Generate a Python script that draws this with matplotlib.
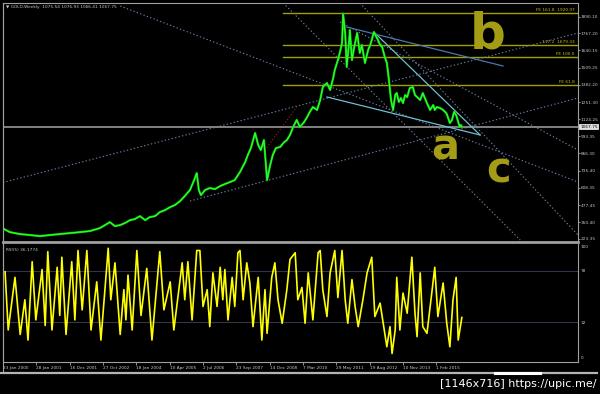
import matplotlib
matplotlib.use('Agg')
import matplotlib.pyplot as plt
from matplotlib.lines import Line2D
import matplotlib.transforms as mtransforms

W, H = 600, 394

# ---------------- data ----------------
symbol_title = "\u25BC GOLD,Weekly  1075.54 1076.93 1066.41 1067.75"
rsi_title = "RSI(5) 36.1774"
last_price = 1067.75

price_bar = [2,13,33,52,71,90,109,129,148,167,186,196,205,215,225,234,244,253,263,273,
             282,292,301,311,321,330,340,349,359,367,372,376,380,388,397,407,417,426,436,445,
             455,465,470,476,484,490,495,501,507,513,518,524,532,540,545,551,557,564,570,578,
             584,589,595,603,609,614,622,628,634,637,643,647,651,653,657,660,664,666,670,674,
             676,680,685,689,695,701,705,708,712,716,720,724,728,733,737,741,745,749,753,756,
             760,764,768,772,776,781,787,791,795,801,806,810,814,820,826,829,833,839,845,849,
             852,858,862,866,870,874,877,879,881]
price_close = [298,275,260,253,245,253,260,268,275,283,305,328,350,320,328,343,365,373,395,365,
               388,395,425,440,463,478,508,546,591,666,718,591,553,591,606,598,621,636,651,666,
               726,801,854,906,1019,929,891,966,666,779,854,906,914,951,966,1004,1064,1117,1064,1101,
               1139,1177,1214,1192,1267,1364,1394,1342,1432,1492,1567,1627,1695,1915,1770,1515,1680,1792,1567,1657,
               1695,1770,1620,1680,1545,1642,1680,1717,1777,1747,1717,1680,1665,1590,1545,1417,1267,1192,1304,1319,
               1252,1282,1244,1304,1289,1357,1364,1304,1289,1267,1319,1282,1244,1192,1229,1192,1214,1207,1192,1177,
               1162,1094,1117,1177,1154,1101,1064,1079,1067.75]

rsi_bar = [4,10,23,33,42,48,56,63,75,81,86,94,104,109,113,121,132,138,144,152,
           161,169,180,188,202,207,215,225,232,236,240,248,257,265,276,286,301,309,321,328,
           344,349,355,363,372,378,384,392,397,403,411,417,422,426,432,440,445,451,455,461,
           468,474,480,490,497,503,507,516,522,528,536,545,551,561,566,574,580,586,595,605,
           609,614,622,628,637,643,651,657,662,670,676,682,691,699,708,714,724,730,737,743,
           747,753,756,762,768,776,785,791,795,801,806,814,824,829,835,845,852,858,864,870,
           874,881]
rsi_value = [77,25,72,21,52,16,86,34,79,29,95,25,81,38,90,21,86,34,96,43,
             96,25,68,16,98,52,85,21,61,34,74,25,96,38,80,16,95,43,68,25,
             85,52,86,34,96,96,46,61,28,76,46,81,52,79,34,72,46,94,96,52,
             85,67,28,72,16,61,22,72,85,52,31,61,88,94,52,63,31,76,34,94,
             96,61,37,76,96,54,96,52,31,70,46,28,52,76,90,37,49,31,10,28,
             4,25,72,25,58,40,90,40,19,76,28,22,61,81,37,67,31,10,52,72,
             16,36.18]

date_tick_bar = [0,64,128,192,256,320,384,448,512,576,640,704,768,832]
date_labels = ["23 Jan 2000","28 Jan 2001","16 Dec 2001","27 Oct 2002","18 Jan 2004",
               "10 Apr 2005","2 Jul 2006","23 Sep 2007","14 Dec 2008","7 Mar 2010",
               "29 May 2011","19 Aug 2012","10 Nov 2013","1 Feb 2015"]
price_ticks = [1890.10,1767.20,1640.15,1509.25,1382.20,1251.30,1124.25,993.35,
               866.30,735.40,608.35,477.45,350.40,223.35]
rsi_ticks = [100,78,32,0]
rsi_levels = [78,32]

fe_prices = [1920.97,1679.33,1586.10,1379.10]
fe_labels = ["FE 161.8  1920.97","117.2  1679.33","FE 100.0","FE 61.8"]
fe_start_bar = 537

# trendlines: (bar1, price1, bar2, price2)
dotted_lines = [(225,1972.7,1104,651.3),
                (685,1995.2,1104,253.4),
                (538,1995.2,993,215.8),
                (0,647.5,1104,1770.0),
                (359,508.6,1104,1282.0),
                (647,1852.6,1104,891.5)]
red_dotted = (503,891.5,564,1214.4)
wedge_lines = [(622,1289.5,916,1004.2),
               (712,1777.5,916,1004.2)]
steel_line = (660,1815.0,960,1522.2)
hand_marks = [("b",931,1755),("a",849,914),("c",952,734)]

# ---------------- figure ----------------
BG = 'black'
TXT = '#c8c8c8'
FS = 3.1
fig = plt.figure(figsize=(W/100, H/100), dpi=100, facecolor=BG)

def axrect(x0, y0, x1, y1):
    return [x0/W, 1-y1/H, (x1-x0)/W, (y1-y0)/H]

ax = fig.add_axes(axrect(3, 3, 578, 242), facecolor=BG)
rx = fig.add_axes(axrect(3, 244, 578, 362), facecolor=BG)

ax.set_xlim(0, 1104)
ax.set_ylim(200.8, 1995.2)
rx.set_xlim(0, 1104)
rx.set_ylim(-3.6, 101.8)

# FE lines
fe_col = '#a3a000'
for p, lab in zip(fe_prices, fe_labels):
    ax.plot([fe_start_bar, 1104], [p, p], color=fe_col, lw=1.0, zorder=2)
    ax.text(1098, p + 8, lab, color='#c8c400', fontsize=FS, ha='right', va='bottom', zorder=5)

# dotted trendlines
for (b1, p1, b2, p2) in dotted_lines:
    ax.plot([b1, b2], [p1, p2], color='#6a7fa8', lw=0.8, ls=(0, (1.2, 2.0)), zorder=2)
b1, p1, b2, p2 = red_dotted
ax.plot([b1, b2], [p1, p2], color='#b02020', lw=0.7, ls=(0, (1.2, 2.0)), zorder=2)

# current price line
ax.axhline(last_price, color='#8c8c8c', lw=1.3, zorder=2)

# solid trendlines
for (b1, p1, b2, p2) in wedge_lines:
    ax.plot([b1, b2], [p1, p2], color='#6cbfd2', lw=0.9, zorder=3)
b1, p1, b2, p2 = steel_line
ax.plot([b1, b2], [p1, p2], color='#4a78b0', lw=0.9, zorder=3)

# price
ax.plot(price_bar, price_close, color='#00c800', lw=1.6, zorder=4)
ax.plot(price_bar, price_close, color='#33ff33', lw=0.8, zorder=4)

# hand-drawn marks
for ch, b, p in hand_marks:
    size = 36 if ch == 'b' else 30
    ax.text(b, p, ch, color='#a39c14', fontsize=size, fontweight='bold',
            ha='center', va='center', zorder=6)

# titles
ax.text(0.005, 0.99, symbol_title, transform=ax.transAxes, color=TXT,
        fontsize=FS, ha='left', va='top')
rx.text(0.005, 0.97, rsi_title, transform=rx.transAxes, color=TXT,
        fontsize=FS, ha='left', va='top')

# axes styling
for a in (ax, rx):
    for s in a.spines.values():
        s.set_color('#a0a0a0')
        s.set_linewidth(0.8)
ax.spines['bottom'].set_linewidth(2.0)
rx.spines['top'].set_visible(False)

ax.yaxis.tick_right()
ax.set_yticks(price_ticks)
ax.set_yticklabels([f"{v:.2f}" for v in price_ticks])
ax.tick_params(axis='y', colors=TXT, labelsize=FS, length=1.5, width=0.5, pad=0.6)
ax.set_xticks([])

# current price label
trans = mtransforms.blended_transform_factory(ax.transAxes, ax.transData)
ax.text(1.0035, last_price, f"{last_price:.2f}", transform=trans, color='black',
        fontsize=FS, ha='left', va='center',
        bbox=dict(boxstyle='square,pad=0.2', fc='#e0e0e0', ec='white', lw=0.5),
        clip_on=False, zorder=7)

# RSI
for lv in rsi_levels:
    rx.axhline(lv, color='#34344c', lw=0.8, zorder=1)
rx.plot(rsi_bar, rsi_value, color='#ffff00', lw=1.2, zorder=3)
rx.yaxis.tick_right()
rx.set_yticks(rsi_ticks)
rx.set_yticklabels([str(v) for v in rsi_ticks])
rx.tick_params(axis='y', colors=TXT, labelsize=FS, length=0, pad=2)
rx.set_xticks(date_tick_bar)
rx.set_xticklabels(date_labels)
rx.tick_params(axis='x', colors=TXT, labelsize=FS, length=2, width=0.5, pad=1.2)
for lab in rx.get_xticklabels():
    lab.set_horizontalalignment('left')

# frame pieces
fig.add_artist(Line2D([3/W, 3/W], [1-3/H, 1-372/H], color='#a0a0a0', lw=0.8))
fig.add_artist(Line2D([0, 597/W], [1-373/H, 1-373/H], color='#b4b4b4', lw=1.6))
fig.add_artist(Line2D([495/W, 540/W], [1-373/H, 1-373/H], color='white', lw=2.2))
fig.text(597/W, 1-384/H, "[1146x716] https://upic.me/", color='white',
         fontsize=8, ha='right', va='center')

fig.savefig('out.png', dpi=100, facecolor=BG)
